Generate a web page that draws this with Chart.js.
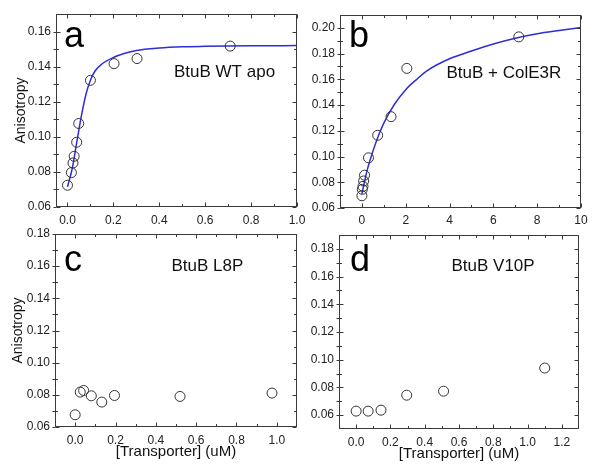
<!DOCTYPE html>
<html><head><meta charset="utf-8">
<script src="https://cdn.jsdelivr.net/npm/chart.js@4.4.1/dist/chart.umd.min.js"></script>
<style>
html,body{margin:0;padding:0;background:#fff;}
#wrap{position:relative;width:600px;height:476px;overflow:hidden;}
canvas{position:absolute;left:0;top:0;}
</style></head><body>
<div id="wrap">
<canvas id="ca" width="600" height="476"></canvas>
<canvas id="cb" width="600" height="476"></canvas>
<canvas id="cc" width="600" height="476"></canvas>
<canvas id="cd" width="600" height="476"></canvas>
</div>
<script>
// ---------- Data ----------
// Panel a: BtuB WT apo
const aX = [0, 0.017, 0.024, 0.029, 0.040, 0.049, 0.100, 0.203, 0.303, 0.709];
const aY = [0.0724, 0.0796, 0.0851, 0.0889, 0.0969, 0.1076, 0.1322, 0.1417, 0.1446, 0.1517];
const aFitX = [0, 0.02, 0.04, 0.06, 0.08, 0.10, 0.12, 0.15, 0.20, 0.25, 0.30, 0.40, 0.50, 0.60, 0.70, 0.80, 1.00];
const aFitY = [0.0715, 0.0815, 0.0965, 0.1115, 0.1240, 0.1322, 0.1375, 0.1415, 0.1452, 0.1476, 0.1492, 0.1506, 0.1513, 0.1516, 0.1518, 0.1519, 0.1520];
// Panel b: BtuB + ColE3R
const bX = [0, 0.02, 0.05, 0.08, 0.12, 0.30, 0.72, 1.33, 2.05, 7.16];
const bY = [0.0695, 0.0745, 0.0768, 0.0810, 0.0855, 0.0990, 0.1165, 0.1310, 0.1685, 0.1930];
const bFitX = [0, 0.1, 0.25, 0.5, 0.75, 1.0, 1.5, 2.0, 2.5, 3, 4, 5, 6, 7, 8, 9, 10];
const bFitY = [0.071, 0.079, 0.090, 0.104, 0.116, 0.126, 0.141, 0.152, 0.160, 0.167, 0.176, 0.182, 0.1875, 0.192, 0.1955, 0.198, 0.2003];
// Panel c: BtuB L8P
const cX = [0, 0.025, 0.042, 0.080, 0.132, 0.195, 0.520, 0.976];
const cY = [0.0676, 0.0817, 0.0827, 0.0794, 0.0755, 0.0796, 0.0790, 0.0811];
// Panel d: BtuB V10P
const dX = [0, 0.07, 0.145, 0.295, 0.510, 1.100];
const dY = [0.0629, 0.0629, 0.0636, 0.0744, 0.0773, 0.0940];

// Tick labels
const aXTicks = [0, 0.2, 0.4, 0.6, 0.8, 1.0];
const aYTicks = [0.06, 0.08, 0.10, 0.12, 0.14, 0.16];
const bXTicks = [0, 2, 4, 6, 8, 10];
const bYTicks = [0.06, 0.08, 0.10, 0.12, 0.14, 0.16, 0.18, 0.20];
const cXTicks = [0, 0.2, 0.4, 0.6, 0.8, 1.0];
const cYTicks = [0.06, 0.08, 0.10, 0.12, 0.14, 0.16, 0.18];
const dXTicks = [0, 0.2, 0.4, 0.6, 0.8, 1.0, 1.2];
const dYTicks = [0.06, 0.08, 0.10, 0.12, 0.14, 0.16, 0.18];

const letters = ['a', 'b', 'c', 'd'];
const labels = ['BtuB WT apo', 'BtuB + ColE3R', 'BtuB L8P', 'BtuB V10P'];
const yTitle = 'Anisotropy';
const xTitle = '[Transporter] (uM)';

// ---------- Helpers ----------
const FONT = "'Liberation Sans', Arial, sans-serif";
const pts = (xs, ys) => xs.map((x, i) => ({x: x, y: ys[i]}));
const midpoints = (t, lo, hi) => {
  const out = [];
  const step = t[1] - t[0];
  for (let i = 0; i <= t.length; i++) {
    const v = (i === 0 ? t[0] - step / 2 : t[i - 1] + step / 2);
    if (v > lo + 1e-9 && v < hi - 1e-9) out.push(v);
  }
  return out;
};

const frameTicks = {
  id: 'frameTicks',
  afterDraw(chart, args, o) {
    const ctx = chart.ctx;
    const ca = chart.chartArea;
    const xs = chart.scales.x, ys = chart.scales.y;
    const L = Math.round(ca.left) + 0.5, R = Math.round(ca.right) - 0.5;
    const T = Math.round(ca.top) + 0.5, B = Math.round(ca.bottom) - 0.5;
    ctx.save();
    ctx.strokeStyle = '#3a3a3a';
    ctx.lineWidth = 1;
    ctx.strokeRect(L, T, R - L, B - T);
    const MJ = 4, MN = 2.5;
    ctx.beginPath();
    const xt = (vals, len) => vals.forEach(v => {
      const px = Math.round(xs.getPixelForValue(v)) + 0.5;
      ctx.moveTo(px, B); ctx.lineTo(px, B - len);
      ctx.moveTo(px, T); ctx.lineTo(px, T + len);
    });
    const yt = (vals, len) => vals.forEach(v => {
      const py = Math.round(ys.getPixelForValue(v)) + 0.5;
      ctx.moveTo(L, py); ctx.lineTo(L + len, py);
      ctx.moveTo(R, py); ctx.lineTo(R - len, py);
      ctx.moveTo(L, py); ctx.lineTo(L - 3, py);
    });
    xt(o.xTicks, MJ); xt(midpoints(o.xTicks, xs.min, xs.max), MN);
    yt(o.yTicks, MJ); yt(midpoints(o.yTicks, ys.min, ys.max), MN);
    ctx.stroke();
    // panel letter
    ctx.fillStyle = '#000';
    ctx.textBaseline = 'alphabetic';
    ctx.textAlign = 'left';
    ctx.font = '36px ' + FONT;
    ctx.fillText(o.letter, ca.left + o.letterDx, ca.top + o.letterDy);
    ctx.font = '17px ' + FONT;
    ctx.fillStyle = '#111';
    ctx.fillText(o.label, ca.left + o.labelDx, ca.top + o.labelDy);
    ctx.restore();
  }
};

function makePanel(id, p) {
  const yScaleLeft = p.yTitle ? p.yTitleX - 8.4 : p.l - 40;
  const yW = p.l - yScaleLeft;
  const xTitleH = p.xTitle ? (p.xTitleY + 9) - p.b : 30;
  const datasets = [];
  if (p.fitX) {
    datasets.push({
      data: pts(p.fitX, p.fitY), showLine: true, borderColor: '#2e2ed6', borderWidth: 1.5,
      pointRadius: 0, cubicInterpolationMode: 'monotone', fill: false, order: 2
    });
  }
  datasets.push({
    data: pts(p.x, p.y), showLine: false, pointRadius: 5, pointHoverRadius: 5,
    pointBorderWidth: 1, pointBorderColor: '#333', pointBackgroundColor: 'rgba(0,0,0,0)', order: 1
  });
  const fmt = (d) => (v) => Number(v).toFixed(d);
  return new Chart(document.getElementById(id), {
    type: 'scatter',
    data: {datasets},
    options: {
      responsive: false, animation: false, devicePixelRatio: 1,
      layout: {padding: {left: yScaleLeft, top: p.t, right: 600 - p.r, bottom: 476 - p.b - xTitleH}},
      plugins: {legend: {display: false}, tooltip: {enabled: false},
        frameTicks: {xTicks: p.xTicks, yTicks: p.yTicks, letter: p.letter, label: p.label,
          letterDx: p.letterDx, letterDy: p.letterDy, labelDx: p.labelDx, labelDy: p.labelDy}},
      scales: {
        x: {
          type: 'linear', position: 'bottom', min: p.xMin, max: p.xMax,
          grid: {display: false, drawTicks: false}, border: {display: false},
          afterBuildTicks: s => { s.ticks = p.xTicks.map(v => ({value: v})); },
          afterFit: s => { s.height = xTitleH; },
          ticks: {padding: p.xPad, color: '#222', font: {family: FONT, size: 12}, maxRotation: 0, autoSkip: false,
                  callback: fmt(p.xDec)},
          title: {display: !!p.xTitle, text: xTitle, color: '#111', padding: 0, font: {family: FONT, size: 15}}
        },
        y: {
          type: 'linear', position: 'left', min: p.yMin, max: p.yMax,
          grid: {display: false, drawTicks: false}, border: {display: false},
          afterBuildTicks: s => { s.ticks = p.yTicks.map(v => ({value: v})); },
          afterFit: s => { s.width = yW; },
          ticks: {padding: 5, color: '#222', font: {family: FONT, size: 12}, autoSkip: false,
                  callback: fmt(2)},
          title: {display: !!p.yTitle, text: yTitle, color: '#111', padding: 0, font: {family: FONT, size: 14}}
        }
      }
    },
    plugins: [frameTicks]
  });
}

makePanel('ca', {l: 56, t: 14, r: 297, b: 207, xMin: -0.05, xMax: 1.0, yMin: 0.06, yMax: 0.17,
  xTicks: aXTicks, yTicks: aYTicks, xDec: 1, xPad: 6, x: aX, y: aY, fitX: aFitX, fitY: aFitY,
  yTitle: true, yTitleX: 21, xTitle: false, letter: letters[0], label: labels[0],
  letterDx: 8, letterDy: 33, labelDx: 118, labelDy: 63});
makePanel('cb', {l: 340, t: 15, r: 581, b: 208, xMin: -1, xMax: 10, yMin: 0.06, yMax: 0.21,
  xTicks: bXTicks, yTicks: bYTicks, xDec: 0, xPad: 5, x: bX, y: bY, fitX: bFitX, fitY: bFitY,
  yTitle: false, xTitle: false, letter: letters[1], label: labels[1],
  letterDx: 9, letterDy: 32, labelDx: 106.5, labelDy: 63});
makePanel('cc', {l: 55, t: 234, r: 297, b: 427, xMin: -0.1, xMax: 1.1, yMin: 0.06, yMax: 0.18,
  xTicks: cXTicks, yTicks: cYTicks, xDec: 1, xPad: 6, x: cX, y: cY,
  yTitle: true, yTitleX: 18, xTitle: true, xTitleY: 451.5, letter: letters[2], label: labels[2],
  letterDx: 9, letterDy: 37, labelDx: 116.5, labelDy: 37});
makePanel('cd', {l: 339, t: 235, r: 579, b: 429, xMin: -0.1, xMax: 1.3, yMin: 0.05, yMax: 0.19,
  xTicks: dXTicks, yTicks: dYTicks, xDec: 1, xPad: 6, x: dX, y: dY,
  yTitle: false, xTitle: true, xTitleY: 453.5, letter: letters[3], label: labels[3],
  letterDx: 11, letterDy: 36, labelDx: 112.5, labelDy: 36});
</script>
</body></html>
